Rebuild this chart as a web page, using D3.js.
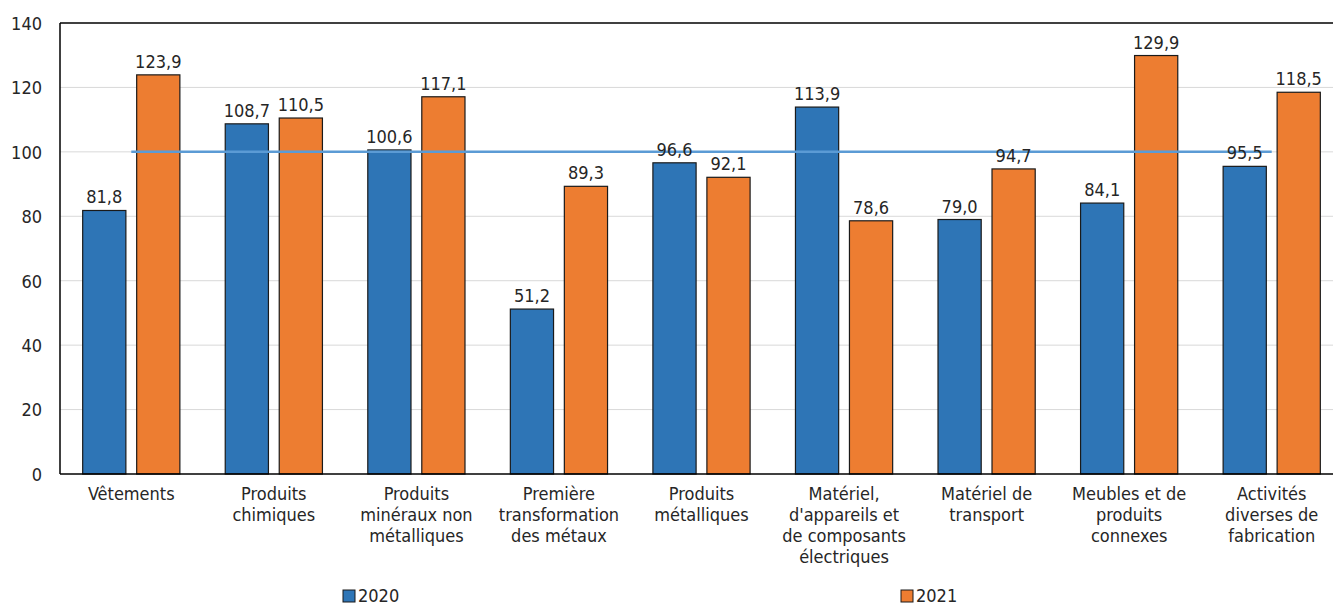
<!DOCTYPE html>
<html><head><meta charset="utf-8">
<script src="https://cdn.jsdelivr.net/npm/d3@7"></script>
<style>
html,body{margin:0;padding:0;background:#fff;overflow:hidden;}
svg text{font-family:"Liberation Sans Narrow","DejaVu Sans Condensed","Roboto",sans-serif;fill:#262626;}
</style></head>
<body><svg id="c" width="1333" height="606"></svg>
<script>
const categories = [
  ["Vêtements"],
  ["Produits","chimiques"],
  ["Produits","minéraux non","métalliques"],
  ["Première","transformation","des métaux"],
  ["Produits","métalliques"],
  ["Matériel,","d'appareils et","de composants","électriques"],
  ["Matériel de","transport"],
  ["Meubles et de","produits","connexes"],
  ["Activités","diverses de","fabrication"]
];
const series = ["2020","2021"];
const values2020 = [81.8,108.7,100.6,51.2,96.6,113.9,79.0,84.1,95.5];
const values2021 = [123.9,110.5,117.1,89.3,92.1,78.6,94.7,129.9,118.5];
const yTicks = [0,20,40,60,80,100,120,140];
const refValue = 100;
const colors = ["#2e75b6","#ed7d31"];

const svg = d3.select("#c");
const L=60, R=1343, T=23, B=474;
const FS = 18;
const ids = categories.map((d,i)=>i);
const x = d3.scaleBand().domain(ids).range([L,R]).paddingInner(0).paddingOuter(0);
const xs = d3.scaleBand().domain(series).range([0,x.bandwidth()]).paddingInner(0.2).paddingOuter(0.42);
const y = d3.scaleLinear().domain([0,140]).range([B,T]);
const fmt = v => v.toFixed(1).replace(".",",");

// grid
svg.append("g").selectAll("line").data(yTicks.filter(t=>t>0&&t<140)).join("line")
  .attr("x1",L).attr("x2",R).attr("y1",d=>y(d)).attr("y2",d=>y(d))
  .attr("stroke","#d9d9d9").attr("stroke-width",1);

// y axis
const ya = svg.append("g").attr("transform",`translate(${L},0)`)
  .call(d3.axisLeft(y).tickValues(yTicks).tickSize(0).tickPadding(18));
ya.select(".domain").remove();
ya.selectAll("text").attr("font-size",FS).style("font-family",null).attr("dy","0.35em");

// bars
const data = [values2020, values2021];
const g = svg.append("g");
series.forEach((s,si)=>{
  g.selectAll(".b"+si).data(data[si]).join("rect")
    .attr("x",(d,i)=>x(i)+xs(s)).attr("width",xs.bandwidth())
    .attr("y",d=>y(d)).attr("height",d=>B-y(d))
    .attr("fill",colors[si]).attr("stroke","#1a1a1a").attr("stroke-width",1.2);
});

// frame
svg.append("line").attr("x1",L).attr("x2",R).attr("y1",T).attr("y2",T).attr("stroke","#000").attr("stroke-width",1.5);
svg.append("line").attr("x1",L).attr("x2",L).attr("y1",T).attr("y2",B).attr("stroke","#000").attr("stroke-width",1.5);
svg.append("line").attr("x1",L).attr("x2",R).attr("y1",B).attr("y2",B).attr("stroke","#000").attr("stroke-width",1.5);

// reference line
svg.append("line")
  .attr("x1",x(0)+x.bandwidth()/2).attr("x2",x(ids.length-1)+x.bandwidth()/2)
  .attr("y1",y(refValue)).attr("y2",y(refValue))
  .attr("stroke","#5b9bd5").attr("stroke-width",2.5);

// value labels
series.forEach((s,si)=>{
  svg.append("g").selectAll("text").data(data[si]).join("text")
    .attr("x",(d,i)=>x(i)+xs(s)+xs.bandwidth()/2).attr("y",d=>y(d)-7)
    .attr("text-anchor","middle").attr("font-size",FS).text(d=>fmt(d));
});

// category labels
const cl = svg.append("g");
categories.forEach((lines,i)=>{
  const t = cl.append("text").attr("text-anchor","middle").attr("font-size",FS)
    .attr("x",x(i)+x.bandwidth()/2).attr("y",500);
  lines.forEach((ln,j)=>t.append("tspan").attr("x",x(i)+x.bandwidth()/2).attr("dy",j?21:0).text(ln));
});

// legend
const legendPos = [343, 901];
series.forEach((s,si)=>{
  svg.append("rect").attr("x",legendPos[si]).attr("y",590).attr("width",12).attr("height",12)
    .attr("fill",colors[si]).attr("stroke","#1a1a1a").attr("stroke-width",1);
  svg.append("text").attr("x",legendPos[si]+15).attr("y",602).attr("font-size",FS).text(s);
});
</script></body></html>
